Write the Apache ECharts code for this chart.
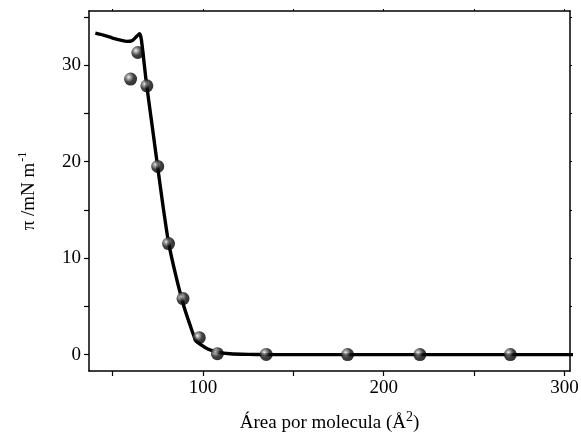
<!doctype html>
<html lang="pt">
<head>
<meta charset="UTF-8">
<style>
  html, body { margin: 0; padding: 0; background: #fff; }
  #main { width: 581px; height: 437px; }
</style>
</head>
<body>
<div id="main"></div>
<script src="https://cdn.jsdelivr.net/npm/echarts@6/dist/echarts.min.js"></script>
<script>
// isoterma: pontos medidos
var areaPts = [60, 64, 69, 75, 81, 89, 98, 108, 135, 180, 220, 270];
var piPts = [28.55, 31.3, 27.85, 19.5, 11.5, 5.8, 1.75, 0.1, 0.02, 0, 0, 0];

// curva continua
var areaCurve = [40.5, 45, 50, 55, 58, 61, 63.5, 65, 66, 68.7, 72, 75, 78, 81, 85, 89, 93, 96, 99, 103, 108, 115, 125, 135, 200, 305];
var piCurve = [33.3, 33.1, 32.8, 32.55, 32.45, 32.55, 33.0, 33.25, 32.6, 28.2, 23.6, 19.4, 15.3, 11.6, 8.2, 5.3, 3.0, 1.5, 1.0, 0.55, 0.25, 0.08, 0.02, 0, 0, 0];

var xTicks = [50, 100, 150, 200, 250, 300];
var xLabels = [100, 200, 300];
var yTicks = [0, 5, 10, 15, 20, 25, 30, 35];
var yLabels = [0, 10, 20, 30];

var font = 'Liberation Serif';

function zip(a, b) {
  var out = [];
  for (var i = 0; i < a.length; i++) out.push([a[i], b[i]]);
  return out;
}

var myChart = echarts.init(document.getElementById('main'));

var axisLine = { show: true, onZero: false, lineStyle: { color: '#000', width: 1.5 } };

option = {
  animation: false,
  grid: { left: 89, right: 11, top: 11, bottom: 66, outerBoundsMode: 'none', containLabel: false },
  xAxis: [{
    type: 'value',
    min: 37, max: 303,
    position: 'bottom',
    axisLine: axisLine,
    axisTick: { show: true, length: 5, lineStyle: { color: '#000', width: 1.2 }, customValues: xTicks },
    axisLabel: { color: '#000', fontFamily: font, fontSize: 19, margin: 8, customValues: xLabels },
    splitLine: { show: false },
    name: '{a|Área por molecula (Å}{s|2}{a|)}',
    nameLocation: 'middle',
    nameGap: 40,
    nameTextStyle: {
      rich: {
        a: { fontFamily: font, fontSize: 19, color: '#000', lineHeight: 24 },
        s: { fontFamily: font, fontSize: 14, color: '#000', lineHeight: 24, padding: [0, 0, 12, 0] }
      }
    }
  }, {
    type: 'value',
    min: 37, max: 303,
    position: 'top',
    axisLine: axisLine,
    axisTick: { show: true, length: 2, lineStyle: { color: '#000' }, customValues: xTicks },
    axisLabel: { show: false },
    splitLine: { show: false }
  }],
  yAxis: [{
    type: 'value',
    min: -1.7, max: 35.6,
    position: 'left',
    axisLine: axisLine,
    axisTick: { show: true, length: 5, lineStyle: { color: '#000', width: 1.2 }, customValues: yTicks },
    axisLabel: { color: '#000', fontFamily: font, fontSize: 19, margin: 8, customValues: yLabels },
    splitLine: { show: false },
    name: '{a|π /mN m}{s|-1}',
    nameLocation: 'middle',
    nameGap: 48,
    nameRotate: 90,
    nameTextStyle: {
      rich: {
        a: { fontFamily: font, fontSize: 19, color: '#000', lineHeight: 24 },
        s: { fontFamily: font, fontSize: 12, color: '#000', lineHeight: 24, padding: [0, 0, 12, 1] }
      }
    }
  }, {
    type: 'value',
    min: -1.7, max: 35.6,
    position: 'right',
    axisLine: axisLine,
    axisTick: { show: true, length: 2, lineStyle: { color: '#000' }, customValues: yTicks },
    axisLabel: { show: false },
    splitLine: { show: false }
  }],
  series: [{
    type: 'line',
    data: zip(areaCurve, piCurve),
    smooth: 0.2,
    showSymbol: false,
    lineStyle: { color: '#000', width: 3.4 },
    z: 2
  }, {
    type: 'scatter',
    data: zip(areaPts, piPts),
    symbol: 'circle',
    symbolSize: 13,
    itemStyle: {
      color: {
        type: 'radial', x: 0.35, y: 0.35, r: 0.65,
        colorStops: [
          { offset: 0, color: '#f0f0f0' },
          { offset: 0.25, color: '#888' },
          { offset: 0.6, color: '#111' },
          { offset: 1, color: '#000' }
        ]
      }
    },
    z: 3
  }]
};
myChart.setOption(option);
</script>
</body>
</html>
